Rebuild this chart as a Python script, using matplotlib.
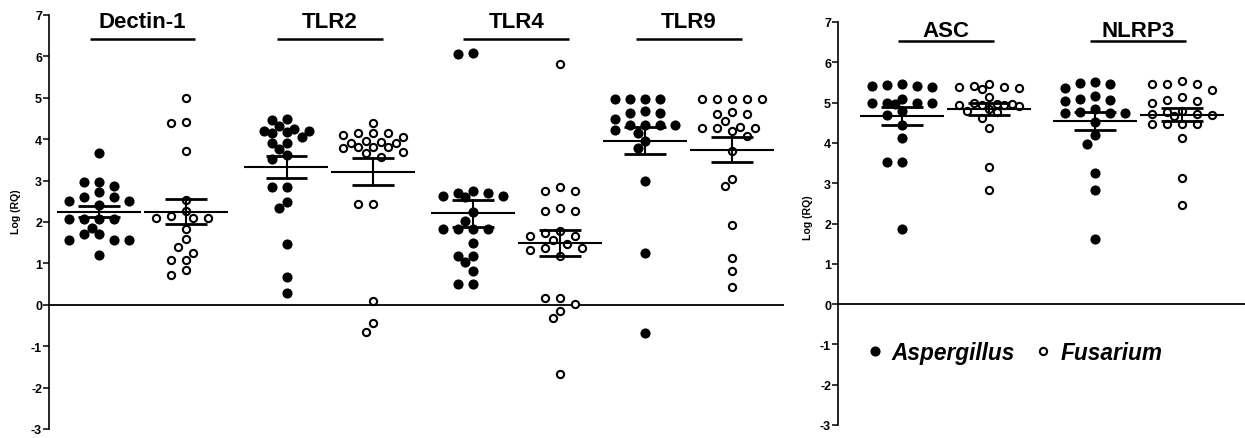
import numpy as np
import matplotlib
matplotlib.use('Agg')
import matplotlib.pyplot as plt
from matplotlib.lines import Line2D
from matplotlib.font_manager import FontProperties

plt.rcParams['font.family'] = ['Liberation Sans', 'DejaVu Sans']
plt.rcParams['axes.unicode_minus'] = False

# ---------------- data ----------------
left_genes = ['Dectin-1', 'TLR2', 'TLR4', 'TLR9']
right_genes = ['ASC', 'NLRP3']
groups = ['Aspergillus', 'Fusarium']
yticks = [-3, -2, -1, 0, 1, 2, 3, 4, 5, 6, 7]
ylabel = 'Log (RQ)'

dectin1_asp = [3.66, 2.97, 2.88, 2.97, 2.72, 2.60, 2.60, 2.51, 2.51, 2.41, 2.07,
               2.07, 2.07, 2.07, 1.86, 1.71, 1.71, 1.57, 1.57, 1.57, 1.20]
dectin1_fus = [4.99, 4.42, 4.39, 3.72, 2.53, 2.27, 2.14, 2.09, 2.09, 2.09, 1.83,
               1.59, 1.39, 1.25, 1.09, 1.08, 0.84, 0.72]
tlr2_asp = [4.48, 4.47, 4.32, 4.24, 4.20, 4.20, 4.18, 4.16, 4.06, 3.92, 3.92,
            3.76, 3.61, 3.52, 2.84, 2.84, 2.49, 2.33, 1.47, 0.67, 0.28]
tlr2_fus = [4.39, 4.16, 4.14, 4.14, 4.10, 4.06, 3.96, 3.94, 3.92, 3.92, 3.82,
            3.80, 3.80, 3.78, 3.68, 3.66, 3.56, 2.43, 2.43, 0.08, -0.44, -0.66]
tlr4_asp = [6.09, 6.05, 2.75, 2.69, 2.69, 2.63, 2.63, 2.60, 2.23, 2.03, 1.83,
            1.83, 1.83, 1.83, 1.49, 1.19, 1.19, 1.04, 0.81, 0.51, 0.51]
tlr4_fus = [5.81, 2.84, 2.75, 2.75, 2.33, 2.27, 2.27, 1.78, 1.73, 1.67, 1.67,
            1.57, 1.47, 1.37, 1.37, 1.33, 1.19, 0.16, 0.16, 0.02, -0.16, -0.32, -1.66]
tlr9_asp = [4.96, 4.96, 4.96, 4.96, 4.67, 4.64, 4.64, 4.50, 4.35, 4.35, 4.35,
            4.35, 4.22, 4.16, 3.96, 3.78, 2.98, 1.25, -0.68]
tlr9_fus = [4.96, 4.96, 4.96, 4.96, 4.96, 4.66, 4.62, 4.62, 4.44, 4.30, 4.28,
            4.27, 4.27, 4.19, 4.08, 3.72, 3.04, 2.86, 1.93, 1.13, 0.81, 0.44]
asc_asp = [5.45, 5.44, 5.40, 5.40, 5.38, 5.09, 5.00, 5.00, 4.98, 4.98, 4.97,
           4.80, 4.70, 4.44, 4.12, 3.52, 3.52, 1.86]
asc_fus = [5.46, 5.42, 5.38, 5.38, 5.35, 5.33, 5.13, 5.00, 4.96, 4.96, 4.94,
           4.94, 4.94, 4.92, 4.84, 4.80, 4.76, 4.63, 4.38, 3.39, 2.83]
nlrp3_asp = [5.52, 5.48, 5.46, 5.35, 5.17, 5.09, 5.06, 5.04, 4.84, 4.76, 4.74,
             4.74, 4.74, 4.53, 4.19, 3.97, 3.25, 2.84, 1.61]
nlrp3_fus = [5.54, 5.46, 5.46, 5.46, 5.32, 5.15, 5.06, 5.03, 5.00, 4.78, 4.76,
             4.72, 4.71, 4.69, 4.66, 4.47, 4.47, 4.47, 4.47, 4.11, 3.13, 2.46]

left_data = {'Dectin-1': (dectin1_asp, dectin1_fus), 'TLR2': (tlr2_asp, tlr2_fus),
             'TLR4': (tlr4_asp, tlr4_fus), 'TLR9': (tlr9_asp, tlr9_fus)}
right_data = {'ASC': (asc_asp, asc_fus), 'NLRP3': (nlrp3_asp, nlrp3_fus)}

# ---------------- layout ----------------
W, H = 1245, 439
fig = plt.figure(figsize=(W / 100, H / 100), dpi=100)
ax1 = fig.add_axes([49 / W, (H - 430) / H, (784 - 49) / W, (430 - 16) / H])
ax2 = fig.add_axes([838 / W, (H - 426) / H, (W - 838) / W, (426 - 23) / H])
ax1.set_xlim(0, 735)
ax2.set_xlim(0, W - 838)
left_centers = [93.5, 281, 467.5, 640]
right_centers = [107.5, 300]
pair_off = 43.5
half_step = 7.5
max_half_steps = 4


def swarm(values, px_per_unit, min_dist=9.5):
    """Beeswarm offsets (px) on a half-step grid, capped width (overlap allowed)."""
    vals = np.asarray(values, dtype=float)
    order = np.argsort(-vals, kind='stable')
    placed = []
    offs = np.zeros(len(vals))
    cand = [0.0]
    for k in range(1, max_half_steps + 1):
        cand += [-k * half_step, k * half_step]
    for i in order:
        y = vals[i] * px_per_unit
        chosen = None
        best, best_d = 0.0, -1.0
        for c in cand:
            d = min([np.hypot(c - xx, y - yy) for xx, yy in placed] or [1e9])
            if d >= min_dist:
                chosen = c
                break
            if d > best_d + 1e-9:
                best, best_d = c, d
        if chosen is None:
            chosen = best
        placed.append((chosen, y))
        offs[i] = chosen
    return offs


def draw_panel(ax, data, centers, px_per_unit, title_line_y, title_y, title_hw):
    ax.set_ylim(-3, 7)
    ax.set_yticks(yticks)
    ax.set_yticklabels([str(t) for t in yticks])
    ax.set_xticks([])
    for s in ['top', 'right', 'bottom']:
        ax.spines[s].set_visible(False)
    ax.spines['left'].set_linewidth(1.2)
    ax.tick_params(axis='y', direction='out', length=4, width=1.1, pad=1,
                   labelsize=9)
    for lab in ax.get_yticklabels():
        lab.set_fontweight('bold')
    ax.axhline(0, color='black', lw=1.3, zorder=1)
    for gene, c in zip(data.keys(), centers):
        asp, fus = data[gene]
        for k, vals in enumerate((asp, fus)):
            x0 = c - pair_off if k == 0 else c + pair_off
            xs = x0 + swarm(vals, px_per_unit)
            if k == 0:
                ax.plot(xs, vals, 'o', ms=7.3, mfc='black', mec='black', mew=0,
                        ls='', zorder=3, clip_on=False)
            else:
                ax.plot(xs, vals, 'o', ms=5.2, mfc='white', mec='black', mew=1.5,
                        ls='', zorder=3, clip_on=False)
            v = np.asarray(vals)
            m = v.mean()
            se = v.std(ddof=1) / np.sqrt(len(v))
            ax.plot([x0 - 42, x0 + 42], [m, m], color='black', lw=1.5, zorder=4,
                    solid_capstyle='butt')
            ax.plot([x0, x0], [m - se, m + se], color='black', lw=1.5, zorder=4)
            for yy in (m - se, m + se):
                ax.plot([x0 - 21, x0 + 21], [yy, yy], color='black', lw=2.0,
                        zorder=4, solid_capstyle='butt')
        ax.plot([c - title_hw, c + title_hw], [title_line_y, title_line_y],
                color='black', lw=1.8, clip_on=False, solid_capstyle='butt')
        ax.text(c, title_y, gene, ha='center', va='baseline', fontsize=16,
                fontweight='bold')


draw_panel(ax1, left_data, left_centers, 41.4, 6.43, 6.70, 53)
draw_panel(ax2, right_data, right_centers, 40.3, 6.53, 6.66, 48)

ax1.set_ylabel(ylabel, fontsize=7.6, fontweight='bold')
ax1.yaxis.set_label_coords(-0.038, 0.527)
ax2.set_ylabel(ylabel, fontsize=7.6, fontweight='bold')
ax2.yaxis.set_label_coords(-0.062, 0.516)

handles = [Line2D([], [], marker='o', ls='', mfc='black', mec='black', mew=0, ms=7.3),
           Line2D([], [], marker='o', ls='', mfc='white', mec='black', mew=1.5, ms=5.2)]
leg = ax2.legend(handles, groups, loc='center left', bbox_to_anchor=(0.068, 0.181),
                 ncol=2, frameon=False, handlelength=0.8, handletextpad=0.35,
                 columnspacing=0.85, borderpad=0, borderaxespad=0,
                 prop=FontProperties(family='Liberation Sans', weight='bold',
                                     style='italic', size=16.3))

fig.savefig('out.png', dpi=100)
